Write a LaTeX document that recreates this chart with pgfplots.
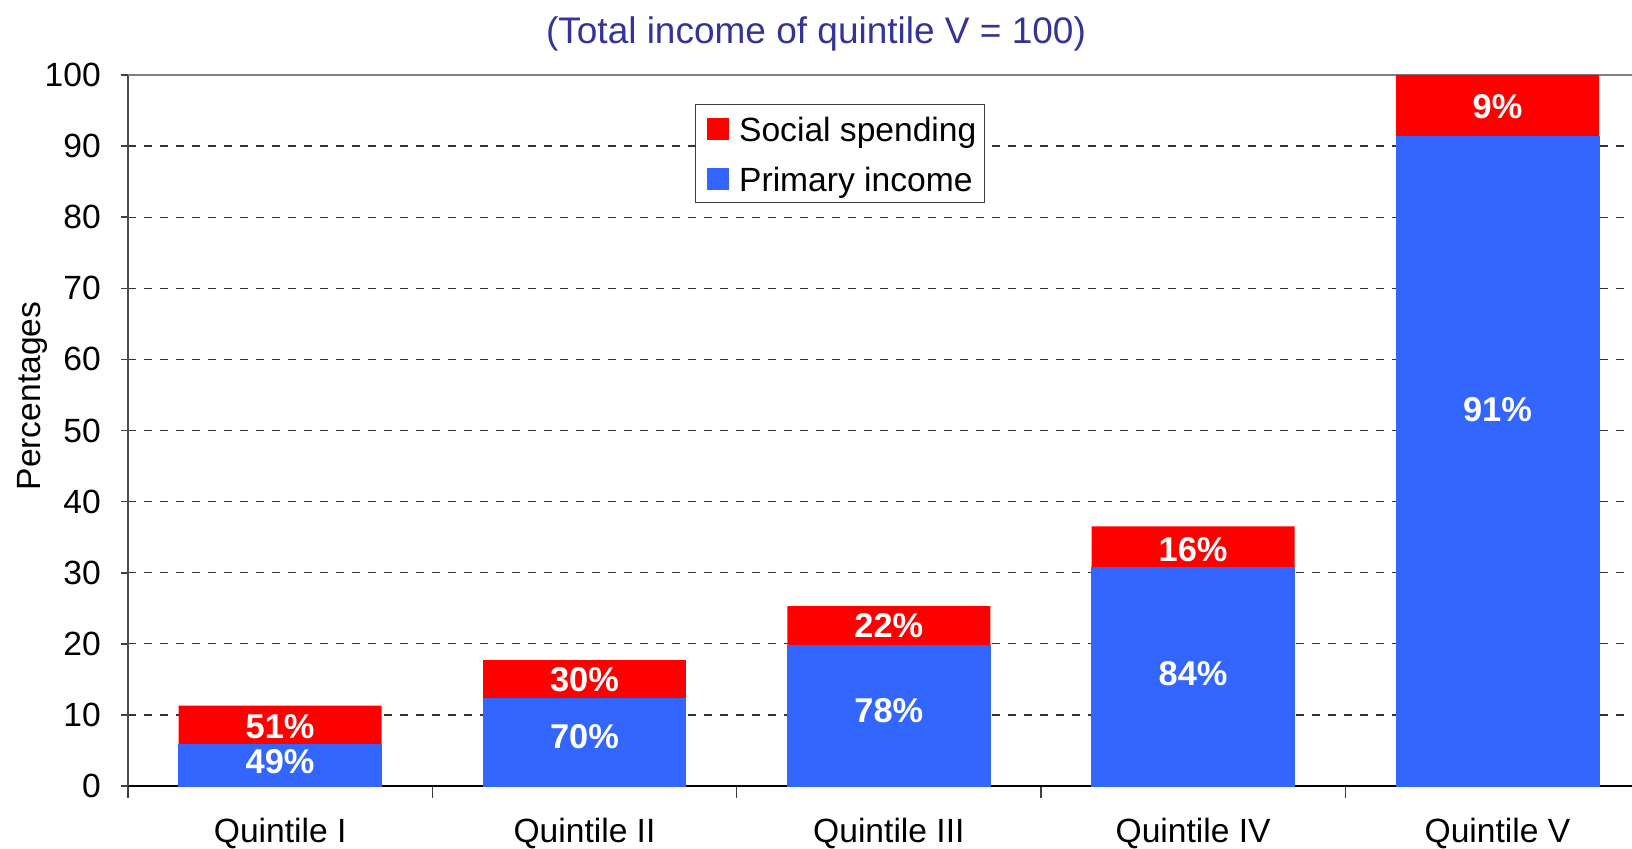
\documentclass[border=0pt]{standalone}
\usepackage{fontspec}
\setmainfont{Liberation Sans}
\usepackage{pgfplots}
\pgfplotsset{compat=1.18}
\definecolor{socred}{HTML}{FF0000}
\definecolor{primblue}{HTML}{3366FF}
\definecolor{titleblue}{HTML}{333399}
\newcommand\fs{\fontsize{16.8}{20}\selectfont}
\begin{document}
\begin{tikzpicture}[x=1pt,y=1pt]
\begin{axis}[
 scale only axis,
 at={(64pt,31pt)}, anchor=south west,
 width=752pt, height=355.5pt,
 xmin=-0.5, xmax=4.442, ymin=0, ymax=100,
 axis x line*=bottom, axis y line*=left,
 axis line style={-, line width=0.8pt},
 x axis line style={draw=black},
 y axis line style={draw=black!70},
 ytick={0,10,...,100},
 xtick={0,1,2,3,4},
 xticklabels={Quintile I,Quintile II,Quintile III,Quintile IV,Quintile V},
 minor xtick={-0.5,0.5,1.5,2.5,3.5},
 major x tick style={draw=none},
 tick align=outside,
 major tick length=3.6pt, minor tick length=6pt,
 tick style={black!75, line width=0.8pt},
 ymajorgrids,
 major grid style={dash pattern=on 4pt off 4pt, draw=black!80, line width=0.6pt},
 extra y ticks={100}, extra y tick labels={},
 extra y tick style={major grid style={solid, draw=black!50, line width=1.2pt}},
 tick label style={font=\fs},
 yticklabel style={xshift=-6.5pt},
 xticklabel style={yshift=-9pt},
 /pgf/number format/assume math mode=true,
 legend style={at={(0.3767,0.959)}, anchor=north west, draw=black!75, font=\fs,
   inner xsep=2pt, inner ysep=2pt, row sep=4.9pt,
   cells={anchor=west, text height=14.6pt, text depth=2.5pt}},
 legend image code/.code={\path (0pt,0pt) (17.6pt,0pt); \fill[#1,draw=none] (4pt,-5.5pt) rectangle (15pt,5.5pt);},
]
\addplot[ybar, bar width=0.667, bar shift=0pt, fill=socred, draw=none] coordinates {(0,11.3) (1,17.7) (2,25.3) (3,36.5) (4,100)};
\addlegendentry{Social spending}
\addplot[ybar, bar width=0.667, bar shift=0pt, fill=primblue, draw=primblue, line width=0.5pt] coordinates {(0,5.8) (1,12.3) (2,19.8) (3,30.7) (4,91.4)};
\addlegendentry{Primary income}
\addplot[draw=none, mark=none, forget plot, nodes near coords, point meta=explicit symbolic,
  every node near coord/.style={anchor=center, text=white, font=\fontsize{17.2}{18}\selectfont\bfseries}]
  coordinates {(0,8.3) [51\%] (0,3.4) [49\%] (1,15.0) [30\%] (1,7.0) [70\%] (2,22.5) [22\%] (2,10.6) [78\%] (3,33.3) [16\%] (3,15.8) [84\%] (4,95.5) [9\%] (4,53.0) [91\%]};
\end{axis}
\node[font=\fontsize{18.5}{20}\selectfont, text=titleblue] at (408pt,407pt) {(Total income of quintile V = 100)};
\node[rotate=90, font=\fs] at (16pt,226pt) {Percentages};
\pgfresetboundingbox
\useasboundingbox (0,0) rectangle (816pt,424pt);
\end{tikzpicture}
\end{document}
